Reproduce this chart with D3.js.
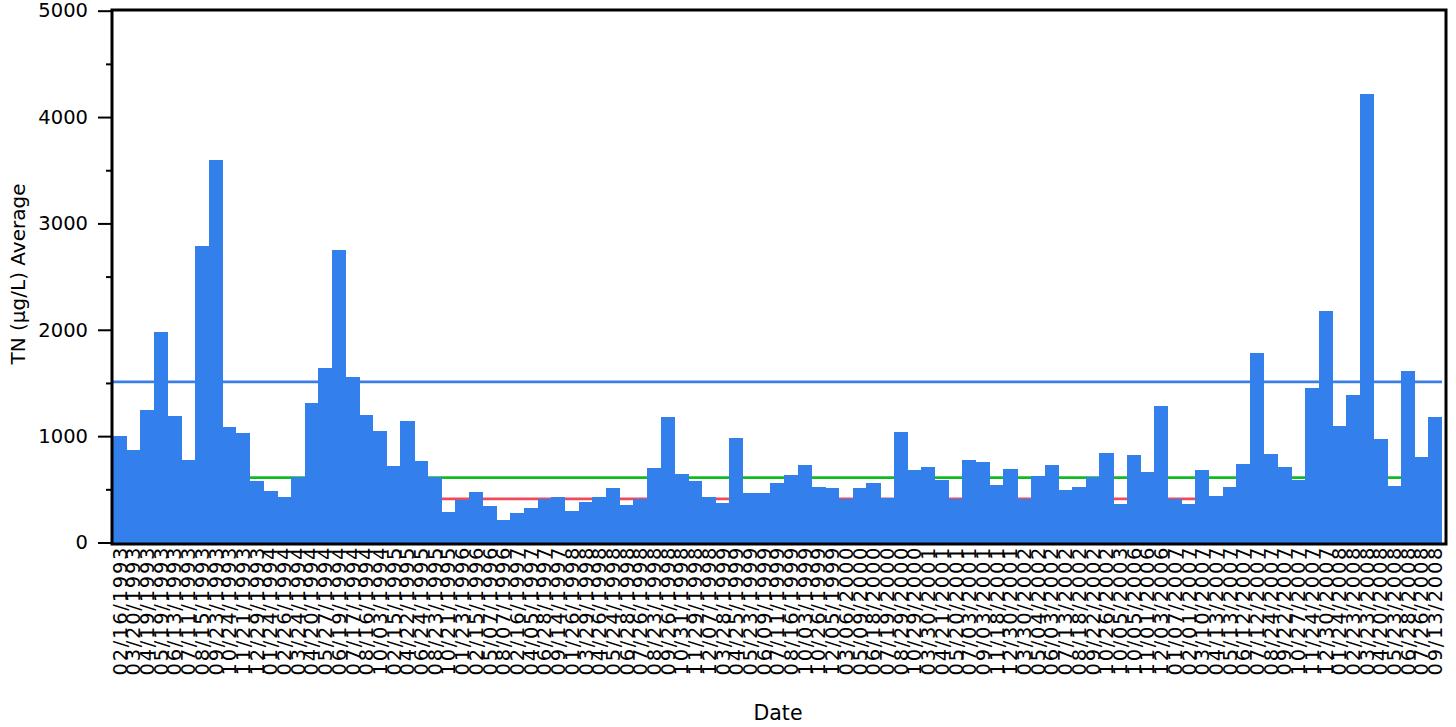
<!DOCTYPE html>
<html>
<head>
<meta charset="utf-8">
<script src="https://cdn.jsdelivr.net/npm/d3@7"></script>
<style>
  body { margin: 0; background: #fff; }
  svg { display: block; font-family: "DejaVu Sans", sans-serif; }
</style>
</head>
<body>
<div id="chart"></div>
<script>
// sample dates (x categories)
const dates = [
  "02/16/1993", "03/20/1993", "04/19/1993", "05/19/1993", "06/13/1993", "07/11/1993",
  "08/15/1993", "09/23/1993", "10/24/1993", "11/21/1993", "12/29/1993",
  "01/24/1994", "02/26/1994", "03/24/1994", "04/20/1994", "05/27/1994", "06/19/1994",
  "07/17/1994", "08/16/1994", "10/03/1994",
  "02/15/1995", "04/22/1995", "06/24/1995", "08/23/1995", "10/21/1995",
  "01/23/1996", "02/15/1996", "05/07/1996", "08/07/1996",
  "02/16/1997", "04/05/1997", "06/28/1997", "09/14/1997",
  "01/26/1998", "03/29/1998", "04/26/1998", "05/24/1998", "06/28/1998", "07/26/1998",
  "08/23/1998", "09/26/1998", "10/31/1998", "11/29/1998", "12/07/1998",
  "03/28/1999", "04/25/1999", "05/23/1999", "06/09/1999", "07/11/1999", "08/16/1999",
  "10/03/1999", "10/26/1999", "12/05/1999",
  "03/06/2000", "05/09/2000", "06/18/2000", "07/19/2000", "08/29/2000", "10/29/2000",
  "03/30/2001", "04/21/2001", "05/20/2001", "07/03/2001", "09/03/2001", "11/18/2001",
  "12/30/2001",
  "03/30/2002", "05/04/2002", "06/03/2002", "07/13/2002", "08/18/2002", "09/22/2002",
  "10/26/2002",
  "10/05/2003",
  "10/05/2006", "11/01/2006", "12/03/2006",
  "01/07/2007", "02/01/2007", "03/10/2007", "04/13/2007", "05/13/2007", "06/12/2007",
  "07/12/2007", "08/24/2007", "09/22/2007", "10/27/2007", "11/24/2007", "12/30/2007",
  "01/24/2008", "02/23/2008", "03/23/2008", "04/20/2008", "05/23/2008", "06/28/2008",
  "07/26/2008", "09/13/2008"
];

// TN average per date (µg/L)
const tnAverage = [
  1005, 874, 1250, 1982, 1193, 780, 2784, 3595, 1082, 1025, 582,
  488, 428, 619, 1307, 1636, 2754, 1552, 1203, 1052,
  723, 1146, 770, 619, 290,
  397, 478, 347, 216,
  273, 320, 410, 428,
  296, 381, 428, 512, 353, 409, 700, 1180, 644, 578, 428,
  371, 983, 465, 465, 559, 634, 728, 522, 512,
  409, 512, 559, 418, 1039, 682,
  710, 587, 409, 776, 757, 541, 692,
  405, 624, 729, 494, 521, 615, 843,
  363,
  823, 662, 1283,
  410, 363, 682, 437, 521, 739, 1783, 833, 709, 588, 1454, 2176,
  1095, 1387, 4218, 974, 530, 1612, 803, 1179
];

// horizontal reference levels
const refLevels = [1510, 610, 410];
const refColors = ["#3a7fe8", "#12bb22", "#ee4a5c"];

const yMajorTicks = [0, 1000, 2000, 3000, 4000, 5000];
const yMinorTicks = [500, 1500, 2500, 3500, 4500];

const width = 1456;
const height = 727;
const plotLeft = 112.7, plotRight = 1442, plotTop = 10.7, plotBottom = 542.5;

const svg = d3.select("#chart")
  .append("svg")
  .attr("width", width)
  .attr("height", height);

const x = d3.scaleBand()
  .domain(d3.range(dates.length))
  .range([plotLeft, plotRight])
  .padding(0);

const y = d3.scaleLinear()
  .domain([0, 5000])
  .range([plotBottom, plotTop]);

// reference lines sit behind the bars
svg.append("g")
  .selectAll("line")
  .data(refLevels)
  .join("line")
    .attr("x1", plotLeft)
    .attr("x2", plotRight)
    .attr("y1", d => y(d))
    .attr("y2", d => y(d))
    .attr("stroke", (d, i) => refColors[i])
    .attr("stroke-width", 2.6);

svg.append("g")
  .selectAll("rect")
  .data(tnAverage)
  .join("rect")
    .attr("x", (d, i) => x(i))
    .attr("width", x.bandwidth() + 0.4)
    .attr("y", d => y(d))
    .attr("height", d => y(0) - y(d))
    .attr("fill", "#3380ed")
    .attr("shape-rendering", "crispEdges");

// frame
svg.append("rect")
  .attr("x", 112)
  .attr("y", 10)
  .attr("width", 1446 - 112)
  .attr("height", 544 - 10)
  .attr("fill", "none")
  .attr("stroke", "#000")
  .attr("stroke-width", 3);

// y axis
const yAxis = svg.append("g")
  .attr("transform", `translate(${plotLeft - 0.7},0)`)
  .call(d3.axisLeft(y).tickValues(yMajorTicks).tickSize(14).tickPadding(10)
    .tickFormat(d3.format("d")));
yAxis.select(".domain").remove();
yAxis.selectAll("line").attr("stroke-width", 2);
yAxis.selectAll("text")
  .attr("font-size", 19.5)
  .attr("font-family", "DejaVu Sans")
  .attr("fill", "#000");

const yMinor = svg.append("g")
  .attr("transform", `translate(${plotLeft - 0.7},0)`)
  .call(d3.axisLeft(y).tickValues(yMinorTicks).tickSize(6).tickFormat(""));
yMinor.select(".domain").remove();
yMinor.selectAll("line").attr("stroke-width", 2);

// x axis with vertical date labels
const xAxis = svg.append("g")
  .attr("transform", `translate(0,${plotBottom + 1})`)
  .call(d3.axisBottom(x).tickSize(0).tickFormat(i => dates[i]));
xAxis.select(".domain").remove();
xAxis.selectAll("text")
  .attr("font-size", 19.5)
  .attr("font-family", "DejaVu Sans")
  .attr("fill", "#000")
  .attr("transform", "rotate(-90)")
  .attr("text-anchor", "end")
  .attr("x", -4)
  .attr("y", 0)
  .attr("dy", "0.36em")
  .attr("textLength", 128)
  .attr("lengthAdjust", "spacing");

// axis titles
svg.append("text")
  .attr("x", 778)
  .attr("y", 720)
  .attr("text-anchor", "middle")
  .attr("font-size", 20.5)
  .text("Date");

svg.append("text")
  .attr("transform", "translate(25,274) rotate(-90)")
  .attr("text-anchor", "middle")
  .attr("font-size", 20)
  .text("TN (µg/L) Average");
</script>
</body>
</html>
